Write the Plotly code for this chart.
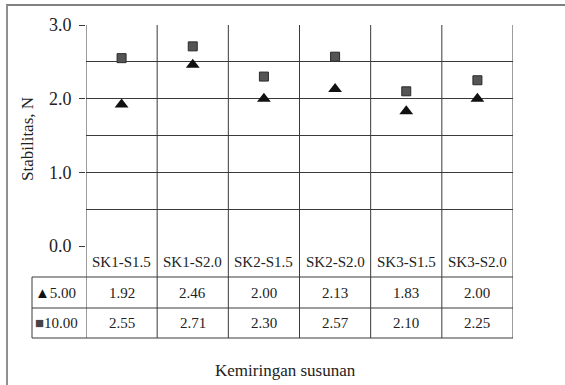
import plotly.graph_objects as go

categories = ["SK1-S1.5", "SK1-S2.0", "SK2-S1.5", "SK2-S2.0", "SK3-S1.5", "SK3-S2.0"]
series_names = ["5.00", "10.00"]
values_5 = [1.92, 2.46, 2.00, 2.13, 1.83, 2.00]
values_10 = [2.55, 2.71, 2.30, 2.57, 2.10, 2.25]
y_ticks = [0.0, 1.0, 2.0, 3.0]

W, H = 565, 385
L, R, T, B = 86, 52, 25, 139
plot_h = H - T - B
def py(pix):  # pixel y -> paper y
    return (H - B - pix) / plot_h
def px(pix):
    return (pix - L) / (W - L - R)

xpos = list(range(len(categories)))
FONT = "Liberation Serif, Times New Roman, serif"
LINE = "#3a3a3a"

fig = go.Figure()
fig.add_trace(go.Scatter(x=xpos, y=values_5, mode="markers", name=series_names[0],
                         marker=dict(symbol="triangle-up", size=12, color="#111111",
                                     line=dict(width=0)), cliponaxis=False))
fig.add_trace(go.Scatter(x=xpos, y=values_10, mode="markers", name=series_names[1],
                         marker=dict(symbol="square", size=9, color="#555555",
                                     line=dict(width=1, color="#2a2a2a")), cliponaxis=False))

shapes = []
row1, row2, row3 = py(277), py(308), py(338)
for i in range(len(categories) + 1):
    shapes.append(dict(type="line", xref="x", yref="paper", x0=i - 0.5, x1=i - 0.5,
                       y0=row3, y1=1, line=dict(color=LINE, width=1)))
for yy in [row1, row2, row3]:
    shapes.append(dict(type="line", xref="paper", yref="paper", x0=px(32), x1=1,
                       y0=yy, y1=yy, line=dict(color=LINE, width=1)))
shapes.append(dict(type="line", xref="paper", yref="paper", x0=px(32), x1=px(32),
                   y0=row3, y1=row1, line=dict(color=LINE, width=1)))
shapes.append(dict(type="line", xref="paper", yref="paper", x0=px(6), x1=px(565),
                   y0=py(5), y1=py(5), line=dict(color="#808080", width=2)))
shapes.append(dict(type="line", xref="paper", yref="paper", x0=px(7), x1=px(7),
                   y0=py(5), y1=py(385), line=dict(color="#909090", width=2)))

ann = []
tf = dict(family=FONT, size=15, color="#222")
for i, c in enumerate(categories):
    ann.append(dict(x=i, y=(0 + row1) / 2, xref="x", yref="paper", text=c, showarrow=False,
                    font=tf, yanchor="middle"))
    ann.append(dict(x=i, y=(row1 + row2) / 2, xref="x", yref="paper", text=f"{values_5[i]:.2f}",
                    showarrow=False, font=tf, yanchor="middle"))
    ann.append(dict(x=i, y=(row2 + row3) / 2, xref="x", yref="paper", text=f"{values_10[i]:.2f}",
                    showarrow=False, font=tf, yanchor="middle"))
ann.append(dict(x=px(33), y=(row1 + row2) / 2, xref="paper", yref="paper", xanchor="left",
                text="<span style='color:#111'>▲</span>" + series_names[0], showarrow=False,
                font=tf, yanchor="middle"))
ann.append(dict(x=px(33), y=(row2 + row3) / 2, xref="paper", yref="paper", xanchor="left",
                text="<span style='color:#444'>■</span>" + series_names[1], showarrow=False,
                font=tf, yanchor="middle"))
ann.append(dict(x=px(285), y=py(370), xref="paper", yref="paper", text="Kemiringan susunan",
                showarrow=False, font=dict(family=FONT, size=17, color="#222"), yanchor="middle"))
ann.append(dict(x=px(27), y=py(139), xref="paper", yref="paper", text="Stabilitas, N",
                showarrow=False, textangle=-90, font=dict(family=FONT, size=17, color="#222"),
                xanchor="center", yanchor="middle"))

fig.update_layout(
    width=W, height=H, margin=dict(l=L, r=R, t=T, b=B),
    paper_bgcolor="white", plot_bgcolor="white", showlegend=False,
    shapes=shapes, annotations=ann,
    xaxis=dict(range=[-0.5, len(categories) - 0.5], showgrid=False, zeroline=False,
               showticklabels=False, ticks="", showline=False, fixedrange=True),
    yaxis=dict(range=[0, 3], tickvals=y_ticks, ticktext=[f"{v:.1f}" for v in y_ticks],
               ticks="outside", ticklen=6, tickcolor=LINE, showgrid=True, gridcolor=LINE,
               gridwidth=1, zeroline=False, showline=False, ticklabelstandoff=4,
               tickfont=dict(family=FONT, size=18, color="#222"),
               minor=dict(dtick=0.5, tick0=0, showgrid=True, gridcolor=LINE, gridwidth=1),
               fixedrange=True),
)
fig.write_html("out.html", config={"displayModeBar": False},
               post_script="document.body.style.margin='0';document.body.style.overflow='hidden';")
